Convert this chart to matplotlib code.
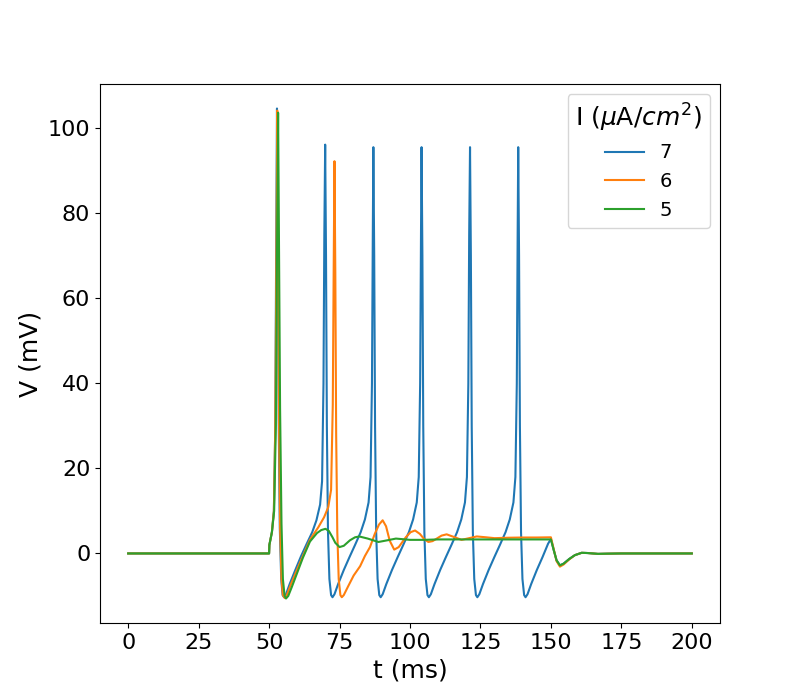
import numpy as np
import matplotlib
matplotlib.use("Agg")
import matplotlib.pyplot as plt

# membrane potential traces (t in ms, V in mV)
t_7 = [0, 50, 50.1, 51, 51.7, 52.2, 52.5, 52.8, 53.1, 53.4, 53.8, 54.3, 54.8, 55.3,
       56.0, 57.3, 59.3, 61.3, 63.3, 65.3, 66.8, 68.1, 68.8, 69.3, 69.6, 69.9,
       70.2, 70.5, 70.9, 71.4, 72.0, 72.5,
       73.2, 74.5, 76.5, 78.5, 80.5, 82.5, 84.0, 85.3, 86.0, 86.5, 86.8, 87.0,
       87.3, 87.6, 88.0, 88.5, 89.1, 89.6,
       90.3, 91.6, 93.6, 95.6, 97.6, 99.6, 101.1, 102.4, 103.1, 103.6, 103.9, 104.1,
       104.4, 104.7, 105.1, 105.6, 106.2, 106.7,
       107.4, 108.7, 110.7, 112.7, 114.7, 116.7, 118.2, 119.5, 120.2, 120.7, 121.0, 121.3,
       121.6, 121.9, 122.3, 122.8, 123.4, 123.9,
       124.6, 125.9, 127.9, 129.9, 131.9, 133.9, 135.4, 136.7, 137.4, 137.9, 138.2, 138.4,
       138.7, 139.0, 139.4, 139.9, 140.5, 141.0,
       141.7, 143.0, 145.0, 147.0, 149.0, 150.0, 151.0, 152.0, 153.2, 154.5, 156.5,
       158.5, 160.9, 163.0, 166.7, 170.0, 175.0, 200.0]
v_7 = [0, 0, 2, 5, 10, 30, 70, 104.7, 72, 32, 6, -6, -9.8, -10.3,
       -9.6, -7.2, -3.9, -0.7, 2.2, 5.0, 7.8, 11.5, 17, 40, 75, 96.2,
       70, 30, 5, -6, -9.8, -10.3,
       -9.6, -7.2, -3.9, -0.9, 2.0, 5.0, 8.0, 12, 18, 40, 75, 95.6,
       70, 30, 5, -6, -9.8, -10.3,
       -9.6, -7.2, -3.9, -0.9, 2.0, 5.0, 8.0, 12, 18, 40, 75, 95.6,
       70, 30, 5, -6, -9.8, -10.3,
       -9.6, -7.2, -3.9, -0.9, 2.0, 5.0, 8.0, 12, 18, 40, 75, 95.6,
       70, 30, 5, -6, -9.8, -10.3,
       -9.6, -7.2, -3.9, -0.9, 2.0, 5.0, 8.0, 12, 18, 40, 75, 95.6,
       70, 30, 5, -6, -9.8, -10.3,
       -9.6, -7.2, -3.9, -0.9, 2.3, 3.4, 0.8, -1.6, -2.8, -2.4, -1.3,
       -0.4, 0.15, 0.1, -0.1, -0.05, 0, 0]

t_6 = [0, 50, 50.1, 51, 51.7, 52.2, 52.6, 52.9, 53.2, 53.5, 53.9, 54.4, 54.9, 55.6,
       56.3, 57.6, 59.6, 61.6, 64.5, 67.5, 69.5, 71.0, 72.0, 72.6, 72.9, 73.2,
       73.5, 73.8, 74.2, 74.7, 75.3, 75.8,
       76.5, 78.0, 80.0, 82.3, 84.0, 85.8, 87.5, 89.0, 90.3, 91.5, 92.8, 94.4,
       96.0, 98.5, 100.2, 101.8, 103.5, 105.0, 106.5, 108.0, 109.5, 111.2, 113.0,
       115.5, 118.3, 121.0, 123.7, 127.0, 130.0, 135.0, 140.0, 145.0, 150.0,
       151.0, 152.0, 153.2, 154.5, 156.5, 158.5, 160.9, 163.0, 166.7, 170.0, 175.0, 200.0]
v_6 = [0, 0, 2, 5, 10, 30, 70, 104.2, 72, 32, 6, -6, -9.8, -10.5,
       -9.8, -7.5, -4.3, -1.2, 3.2, 6.2, 8.5, 10.9, 15, 35, 65, 92.3,
       66, 28, 5, -6, -9.8, -10.3,
       -9.8, -7.8, -5.2, -3.0, -0.6, 1.5, 4.6, 6.8, 7.8, 6.4, 3.0, 0.9,
       1.5, 3.8, 5.0, 5.4, 4.6, 3.4, 2.7, 2.9, 3.5, 4.2, 4.5,
       3.9, 3.2, 3.6, 4.0, 3.8, 3.6, 3.7, 3.75, 3.75, 3.8,
       1.0, -1.8, -3.1, -2.6, -1.4, -0.4, 0.15, 0.1, -0.1, -0.05, 0, 0]

t_5 = [0, 50, 50.1, 51, 51.8, 52.4, 52.8, 53.2, 53.5, 53.9, 54.4, 54.9, 55.5, 56.0,
       56.8, 58.0, 60.0, 62.0, 64.5, 67.0, 68.5, 70.0, 71.2, 72.5, 73.5, 75.0,
       76.5, 78.7, 80.5, 82.0, 85.0, 88.8, 92.0, 95.0, 100.0, 105.0, 110.0, 150.0,
       151.0, 152.0, 153.2, 154.5, 156.5, 158.5, 160.9, 163.0, 166.7, 170.0, 175.0, 200.0]
v_5 = [0, 0, 2, 5, 10, 30, 70, 103.7, 74, 34, 7, -6, -10, -10.6,
       -10, -8, -4.5, -1, 2.8, 4.8, 5.5, 5.8, 5.3, 3.8, 2.5, 1.5,
       1.8, 3.1, 3.8, 4.0, 3.5, 2.7, 3.1, 3.5, 3.2, 3.2, 3.3, 3.3,
       0.8, -1.6, -2.8, -2.4, -1.3, -0.4, 0.15, 0.1, -0.1, -0.05, 0, 0]

currents = ['7', '6', '5']
traces = [(t_7, v_7), (t_6, v_6), (t_5, v_5)]

fig, ax = plt.subplots(figsize=(8, 7), dpi=100)
for label, (t, v) in zip(currents, traces):
    ax.plot(np.array(t), np.array(v), label=label)

ax.set_xlabel('t (ms)', fontsize=18)
ax.set_ylabel('V (mV)', fontsize=18)
ax.tick_params(labelsize=16)
leg = ax.legend(title=r'I ($\mu$A/$cm^2$)', fontsize=14, title_fontsize=18,
                loc='upper right')

fig.savefig('out.png', dpi=100)
